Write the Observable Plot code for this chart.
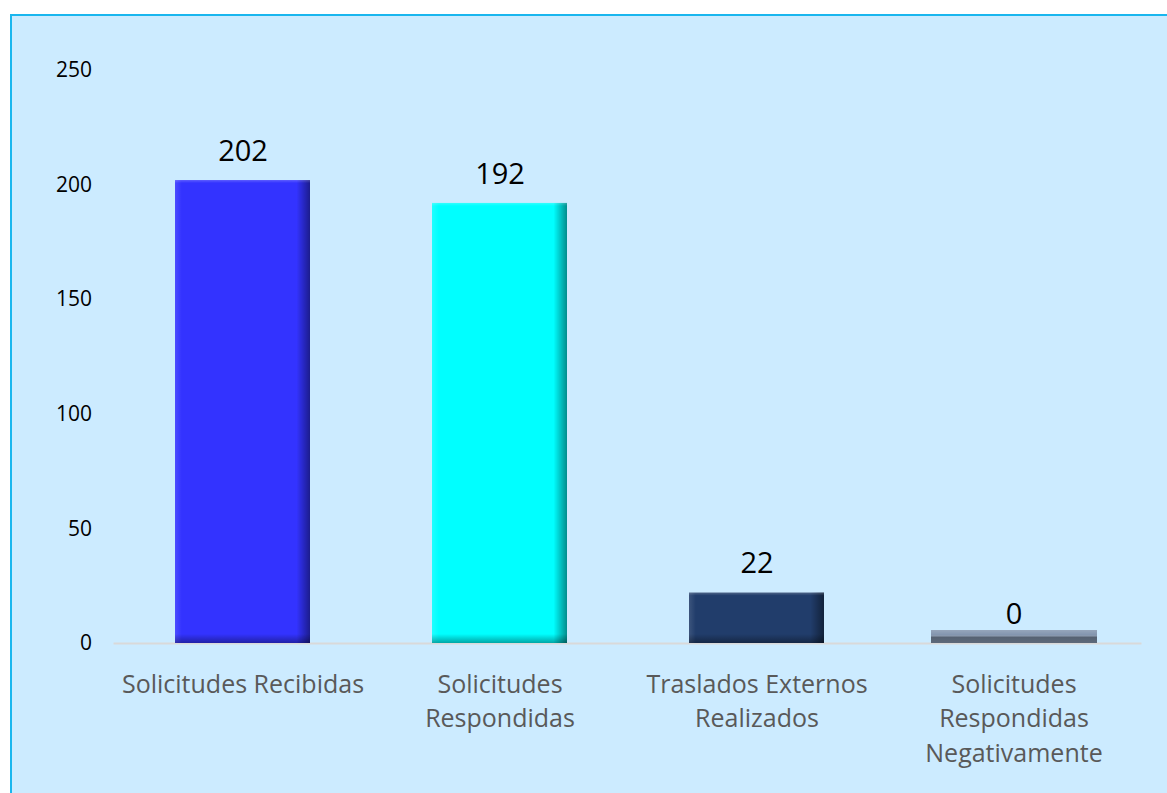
<!DOCTYPE html>
<html>
<head>
<meta charset="utf-8">
<script src="https://cdn.jsdelivr.net/npm/d3@7"></script>
<script src="https://cdn.jsdelivr.net/npm/@observablehq/plot@0.6"></script>
<style>
  html, body { margin: 0; padding: 0; background: #ffffff; width: 1167px; height: 793px; overflow: hidden; }
  #frame { position: absolute; left: 10px; top: 14px; width: 1170px; height: 800px; background: #CCEBFF;
           border-top: 2px solid #1AB6EE; border-left: 2px solid #1AB6EE; }
  #chart { position: absolute; left: 0; top: 0; }
  #chart svg { background: transparent; }
</style>
</head>
<body>
<div id="frame"></div>
<div id="chart"></div>
<script>
const categories = [
  "Solicitudes Recibidas",
  "Solicitudes\nRespondidas",
  "Traslados Externos\nRealizados",
  "Solicitudes\nRespondidas\nNegativamente"
];
const values = [202, 192, 22, 0];
const barColors = ["#3333FF", "#00FFFF", "#213D6B", "#8496AF"];
const yTicks = [0, 50, 100, 150, 200, 250];

const data = categories.map((c, i) => ({ category: c, value: values[i], color: barColors[i] }));

const plot = Plot.plot({
  width: 1167,
  height: 793,
  marginLeft: 113.5,
  marginRight: 25.5,
  marginTop: 70,
  marginBottom: 150,
  style: { background: "transparent", fontFamily: "'Open Sans', sans-serif" },
  x: { domain: categories, paddingInner: 0.475, paddingOuter: 0.2375, label: null },
  y: { domain: [0, 250], label: null },
  marks: [
    Plot.ruleY([0], { stroke: "#D9D9D9", strokeWidth: 2 }),
    Plot.barY(data, { x: "category", y: "value", fill: "color" }),
    Plot.barY(data, { x: "category", y: "value", fill: "url(#hshade)" }),
    Plot.barY(data, { x: "category", y: "value", fill: "#000000", fillOpacity: 0 }),
    Plot.barY(data.filter(d => d.value === 0), { x: "category", y: "value", fill: "color",
      insetTop: -13, insetLeft: -15, insetRight: -16 }),
    Plot.barY(data.filter(d => d.value === 0), { x: "category", y: "value", fill: "url(#slab)",
      insetTop: -13, insetLeft: -15, insetRight: -16 }),
    Plot.text(data, { x: "category", y: "value", text: d => String(d.value), dy: -29,
      lineAnchor: "middle", fontSize: 29, fill: "#000000" }),
    Plot.axisY({ ticks: yTicks, tickSize: 0, tickPadding: 22, fontSize: 21, color: "#000000",
      label: null, tickFormat: d => String(d) }),
    Plot.axisX({ tickSize: 0, tickPadding: 25, fontSize: 25, lineHeight: 1.38, color: "#595959",
      label: null, tickFormat: d => d })
  ]
});

const svg = d3.select(plot);
const defs = svg.insert("defs", ":first-child");
const h = defs.append("linearGradient").attr("id", "hshade").attr("x1", 0).attr("x2", 1).attr("y1", 0).attr("y2", 0);
h.append("stop").attr("offset", "0%").attr("stop-color", "#ffffff").attr("stop-opacity", 0.12);
h.append("stop").attr("offset", "5%").attr("stop-color", "#ffffff").attr("stop-opacity", 0);
h.append("stop").attr("offset", "90%").attr("stop-color", "#000000").attr("stop-opacity", 0);
h.append("stop").attr("offset", "100%").attr("stop-color", "#000000").attr("stop-opacity", 0.45);
const s = defs.append("linearGradient").attr("id", "slab").attr("x1", 0).attr("x2", 0).attr("y1", 0).attr("y2", 1);
s.append("stop").attr("offset", "0%").attr("stop-color", "#ffffff").attr("stop-opacity", 0.15);
s.append("stop").attr("offset", "35%").attr("stop-color", "#ffffff").attr("stop-opacity", 0);
s.append("stop").attr("offset", "55%").attr("stop-color", "#000000").attr("stop-opacity", 0.35);
s.append("stop").attr("offset", "100%").attr("stop-color", "#000000").attr("stop-opacity", 0.3);

// per-bar bottom bevel shading (third bar group)
const barGroups = plot.querySelectorAll('g[aria-label="bar"]');
if (barGroups.length >= 3) {
  barGroups[2].querySelectorAll("rect").forEach((r, i) => {
    const hgt = +r.getAttribute("height");
    if (!(hgt > 0)) return;
    const id = "vshade" + i;
    const g = defs.append("linearGradient").attr("id", id).attr("x1", 0).attr("x2", 0).attr("y1", 0).attr("y2", 1);
    const top = Math.min(0.5, 3 / hgt), bot = Math.max(0.5, 1 - 9 / hgt);
    g.append("stop").attr("offset", 0).attr("stop-color", "#ffffff").attr("stop-opacity", 0.2);
    g.append("stop").attr("offset", top).attr("stop-color", "#ffffff").attr("stop-opacity", 0);
    g.append("stop").attr("offset", bot).attr("stop-color", "#000000").attr("stop-opacity", 0);
    g.append("stop").attr("offset", 1).attr("stop-color", "#000000").attr("stop-opacity", 0.35);
    r.setAttribute("fill", "url(#" + id + ")");
    r.setAttribute("fill-opacity", 1);
  });
  barGroups[2].removeAttribute("fill-opacity");
}

document.getElementById("chart").append(plot);
</script>
</body>
</html>
